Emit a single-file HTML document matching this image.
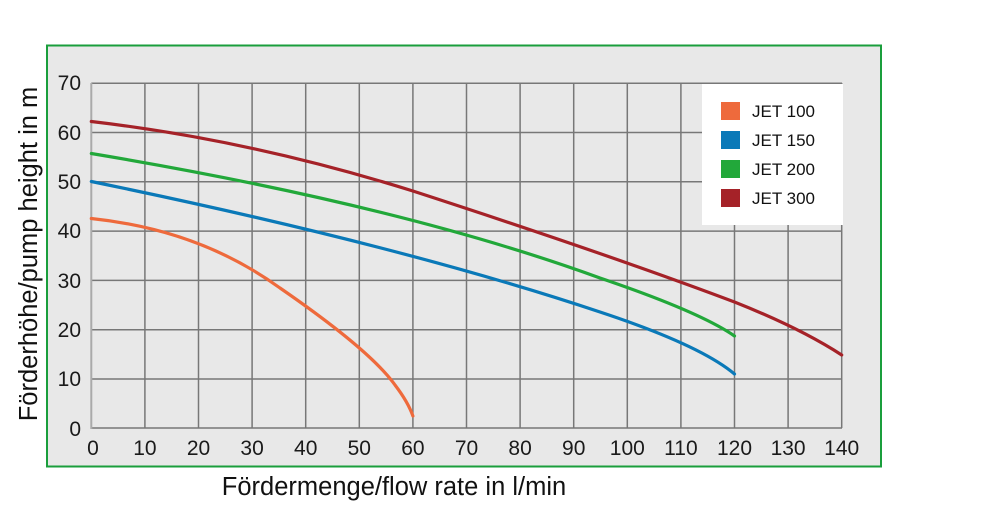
<!DOCTYPE html>
<html><head><meta charset="utf-8"><style>
html,body{margin:0;padding:0;background:#fff;}
svg{display:block;font-family:"Liberation Sans",Arial,sans-serif;}
</style></head><body>
<svg width="1000" height="505" viewBox="0 0 1000 505">
<rect x="47" y="45.5" width="834" height="421" fill="#e8e8e8" stroke="#1a9e3c" stroke-width="2"/>
<g stroke="#777" stroke-width="1.5">
<line x1="144.9" y1="83" x2="144.9" y2="428"/><line x1="198.5" y1="83" x2="198.5" y2="428"/>
<line x1="252.1" y1="83" x2="252.1" y2="428"/><line x1="305.7" y1="83" x2="305.7" y2="428"/>
<line x1="359.3" y1="83" x2="359.3" y2="428"/><line x1="412.9" y1="83" x2="412.9" y2="428"/>
<line x1="466.5" y1="83" x2="466.5" y2="428"/><line x1="520.1" y1="83" x2="520.1" y2="428"/>
<line x1="573.7" y1="83" x2="573.7" y2="428"/><line x1="627.3" y1="83" x2="627.3" y2="428"/>
<line x1="680.9" y1="83" x2="680.9" y2="428"/><line x1="734.5" y1="83" x2="734.5" y2="428"/>
<line x1="788.1" y1="83" x2="788.1" y2="428"/><line x1="841.7" y1="83" x2="841.7" y2="428"/>
<line x1="91.3" y1="83.2" x2="842" y2="83.2"/><line x1="91.3" y1="132.5" x2="842" y2="132.5"/>
<line x1="91.3" y1="181.8" x2="842" y2="181.8"/><line x1="91.3" y1="231.1" x2="842" y2="231.1"/>
<line x1="91.3" y1="280.4" x2="842" y2="280.4"/><line x1="91.3" y1="329.7" x2="842" y2="329.7"/>
<line x1="91.3" y1="379" x2="842" y2="379"/><line x1="91.3" y1="428" x2="842" y2="428"/>
</g>
<line x1="91.3" y1="83" x2="91.3" y2="429" stroke="#aaa" stroke-width="2"/>
<g fill="none" stroke-width="3.2" stroke-linejoin="round" stroke-linecap="round">
<path stroke="#ee6a3c" d="M91.3,218.5 Q200,230 280,288 Q370,350 395,385 Q408,402 412.9,416"/>
<path stroke="#0a79b8" d="M91.3,181.5 Q400,245 600,312 Q700,345 734.5,374"/>
<path stroke="#22a83a" d="M91.3,153.5 Q400,205 600,278 Q700,312 734.5,336"/>
<path stroke="#a52228" d="M91.3,121.5 Q250,140 412.9,191 Q610,255 734.5,302 Q800,328 841.7,355"/>
</g>
<rect x="702" y="84" width="141" height="141" fill="#fff"/>
<rect x="721" y="102" width="19" height="18" fill="#ee6a3c"/>
<rect x="721" y="131" width="19" height="18" fill="#0a79b8"/>
<rect x="721" y="160" width="19" height="18" fill="#22a83a"/>
<rect x="721" y="189" width="19" height="18" fill="#a52228"/>
<g font-size="17" fill="#111">
<text x="752" y="117">JET 100</text><text x="752" y="146">JET 150</text>
<text x="752" y="175">JET 200</text><text x="752" y="204">JET 300</text>
</g>
<g font-size="21" fill="#1a1a1a" text-anchor="end">
<text x="81" y="90">70</text><text x="81" y="140">60</text><text x="81" y="189">50</text>
<text x="81" y="238">40</text><text x="81" y="288">30</text><text x="81" y="337">20</text>
<text x="81" y="386">10</text><text x="81" y="436">0</text>
</g>
<g font-size="21" fill="#1a1a1a" text-anchor="middle">
<text x="93" y="455">0</text><text x="144.9" y="455">10</text><text x="198.5" y="455">20</text>
<text x="252.1" y="455">30</text><text x="305.7" y="455">40</text><text x="359.3" y="455">50</text>
<text x="412.9" y="455">60</text><text x="466.5" y="455">70</text><text x="520.1" y="455">80</text>
<text x="573.7" y="455">90</text><text x="627.3" y="455">100</text><text x="680.9" y="455">110</text>
<text x="734.5" y="455">120</text><text x="788.1" y="455">130</text><text x="841.7" y="455">140</text>
</g>
<text x="394" y="495" font-size="25.5" text-anchor="middle" fill="#111">Fördermenge/flow rate in l/min</text>
<text transform="translate(37,254) rotate(-90)" font-size="25.5" text-anchor="middle" fill="#111">Förderhöhe/pump height in m</text>
</svg>
</body></html>
